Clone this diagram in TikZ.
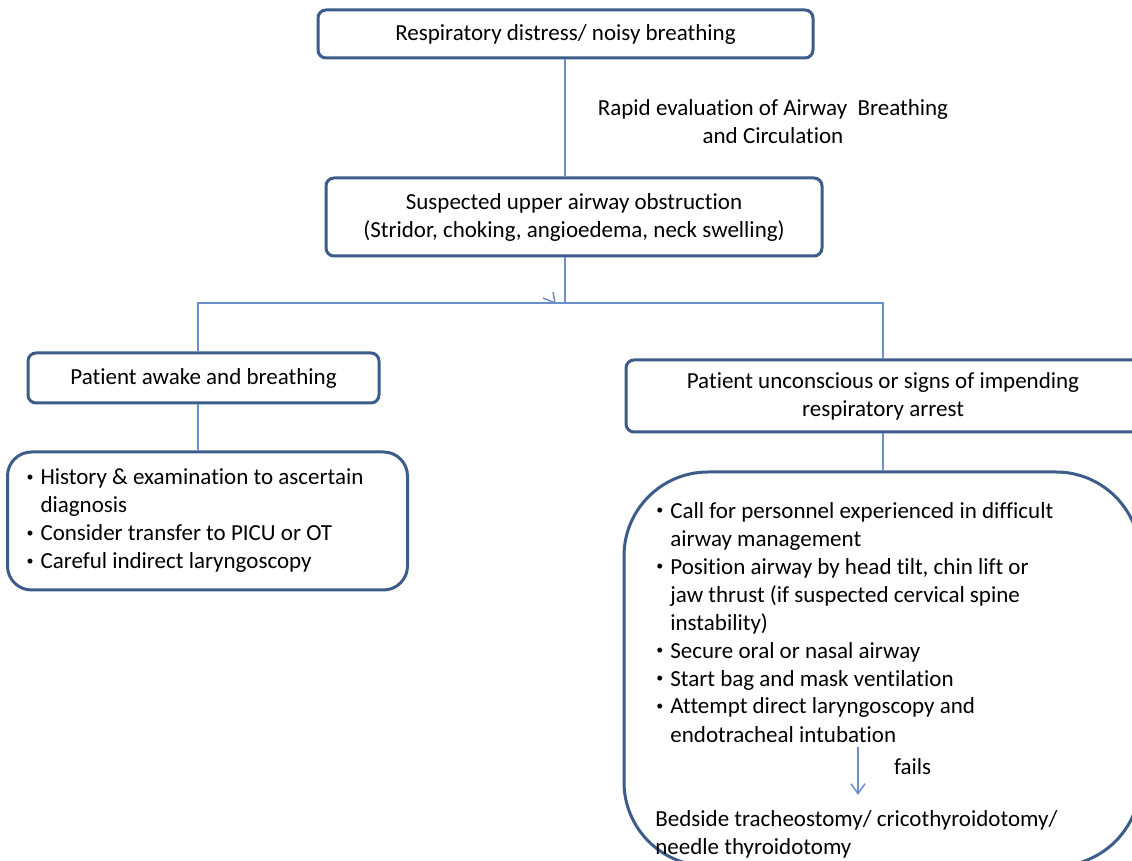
\documentclass[tikz,border=0pt]{standalone}
\usepackage{fontspec}
\setmainfont{Carlito}[Ligatures=NoCommon]
\usetikzlibrary{arrows.meta, positioning, calc}
\definecolor{boxblue}{RGB}{60,92,138}
\definecolor{lineblue}{RGB}{105,145,200}
\newlength{\bulw}\setlength{\bulw}{7.5pt}
\newcommand{\bul}{\makebox[\bulw][l]{\hspace*{0.5pt}\raisebox{0.35ex}{\fontsize{7}{7}\selectfont•}}}
\newcommand{\ind}{\hspace*{\bulw}}

\begin{document}
\begin{tikzpicture}[x=0.5pt, y=-0.5pt,
  font=\fontsize{11.5}{14}\selectfont,
  box/.style={draw=boxblue, line width=1.5pt, rounded corners=4pt, fill=white, align=center, inner sep=0pt},
  conn/.style={draw=lineblue, line width=0.75pt},
  failtip/.style={-{Straight Barb[length=5pt, width=7pt]}}]
  \useasboundingbox (0,0) rectangle (1132,861);
  \clip (0,0) rectangle (1132,861);

  % Boxes
  \node[box, minimum width=247.5pt, minimum height=24pt] (resp) at (565.5,34) {Respiratory distress/ noisy breathing};
  \node[box, minimum width=248pt, minimum height=39pt] (susp) at (574,217) {Suspected upper airway obstruction\\(Stridor, choking, angioedema, neck swelling)};
  \node[box, minimum width=175.5pt, minimum height=25pt] (awake) at (203.5,378) {Patient awake and breathing};
  \node[box, minimum width=257pt, minimum height=36pt] (uncon) at (883,396) {Patient unconscious or signs of impending\\respiratory arrest};
  \node[box, rounded corners=12pt, text width=182pt, inner xsep=9pt, minimum height=69pt, align=flush left] (hist) at (207.5,521)
    {\bul History \& examination to ascertain\\ \ind diagnosis\\ \bul Consider transfer to PICU or OT\\ \bul Careful indirect laryngoscopy};
  \node[box, rounded corners=42pt, minimum width=258pt, minimum height=197pt] (act) at (882,669) {};

  % Text in the large box
  \node[anchor=north west, align=left, inner sep=0pt] (steps) at (655,498)
    {\strut\bul Call for personnel experienced in difficult\\ \ind airway management\\
     \bul Position airway by head tilt, chin lift or\\ \ind jaw thrust (if suspected cervical spine\\ \ind instability)\\
     \bul Secure oral or nasal airway\\ \bul Start bag and mask ventilation\\
     \bul Attempt direct laryngoscopy and\\ \ind endotracheal intubation};
  \node[anchor=north west, align=left, inner sep=0pt] (bed) at (655,807)
    {\strut Bedside tracheostomy/ cricothyroidotomy/\\needle thyroidotomy};

  % Labels
  \node[align=center] (abc) at (773,122) {Rapid evaluation of Airway\ \ Breathing\\and Circulation};

  % Connectors
  \coordinate (split) at (565,303);
  \coordinate (lft) at (198,303);
  \coordinate (rgt) at (883,303);
  \coordinate (tipv) at (555,303);
  \draw[conn] (resp.south -| split) -- (susp.north -| split);
  \draw[conn] (susp.south -| split) -- (split);
  \draw[conn] (awake.north -| lft) -- (lft) -- (rgt) -- (uncon.north -| rgt);
  \draw[conn] ($(tipv)+(-12,-5)$) -- (tipv) -- ($(tipv)+(-2,-11)$);
  \draw[conn] (awake.south -| lft) -- (hist.north -| lft);
  \draw[conn] (uncon.south -| rgt) -- (act.north -| rgt);
  \coordinate (f1) at (858,747);
  \coordinate (f2) at (858,795);
  \draw[conn, failtip] (f1) -- (f2);
  \node[anchor=west] (fails) at (887,767) {fails};
\end{tikzpicture}
\end{document}
